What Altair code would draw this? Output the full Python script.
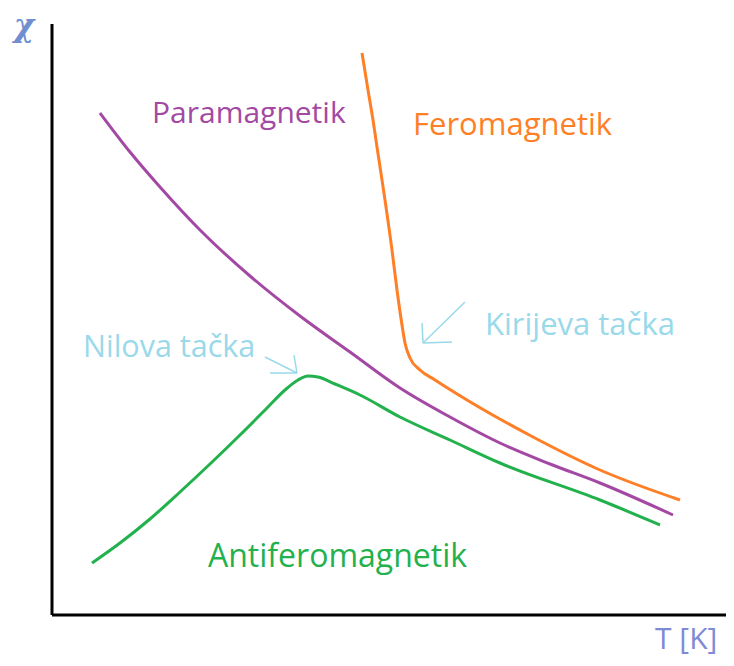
import altair as alt
import pandas as pd

# Curves (T, chi) in arbitrary units
para_T = [48, 78, 108, 148, 198, 248, 298, 348, 398, 448, 498, 548, 621]
para_X = [502, 463, 428, 385, 339, 299, 263, 227, 198, 172, 151, 132, 100]

ferro_T = [310, 316, 321, 325, 333, 340, 345, 350, 353, 358, 368, 383, 415, 481, 548, 628]
ferro_X = [562, 525, 495, 468, 415, 365, 325, 290, 272, 257, 245, 235, 215, 178, 145, 115]

anti_T = [40, 68, 98, 128, 158, 188, 215, 233, 246, 256, 266, 283, 308, 348, 398, 448, 548, 608]
anti_X = [52, 72, 96, 123, 151, 180, 207, 225, 235, 239, 238, 231, 220, 198, 175, 152, 115, 90]

# Labels
lab_text = ["Paramagnetik", "Feromagnetik", "Antiferomagnetik", "Kirijeva tačka", "Nilova tačka", "T [K]"]
lab_T = [100, 361, 156, 433, 31, 603]
lab_X = [492, 480, 48, 280, 258, -34]
lab_size = [30, 31, 32, 31, 30.5, 30]
lab_color = ["#a349a4", "#ff7f27", "#22b14c", "#99d9ea", "#99d9ea", "#7f8ad6"]

# Arrow segments (start -> end)
arr_T = [413, 370, 400, 213, 242, 218]
arr_X = [313, 292, 273, 258, 260, 242]
arr_T2 = [371, 371, 371, 245, 245, 245]
arr_X2 = [272, 272, 272, 242, 242, 242]

# Axis lines
ax_T = [0, 0]
ax_X = [0, 0]
ax_T2 = [0, 674]
ax_X2 = [591, 0]

xs = alt.Scale(domain=[-44, 674], nice=False, zero=False)
ys = alt.Scale(domain=[-43, 607], nice=False, zero=False)

def curve(T, X, color):
    df = pd.DataFrame({"T": T, "chi": X, "i": range(len(T))})
    return alt.Chart(df).mark_line(color=color, strokeWidth=3, interpolate="monotone").encode(
        x=alt.X("T:Q", scale=xs, axis=None),
        y=alt.Y("chi:Q", scale=ys, axis=None),
        order="i:Q",
    )

axes_df = pd.DataFrame({"T": ax_T, "chi": ax_X, "T2": ax_T2, "chi2": ax_X2})
axes = alt.Chart(axes_df).mark_rule(color="black", strokeWidth=3).encode(
    x=alt.X("T:Q", scale=xs, axis=None), y=alt.Y("chi:Q", scale=ys, axis=None),
    x2="T2:Q", y2="chi2:Q")

arr_df = pd.DataFrame({"T": arr_T, "chi": arr_X, "T2": arr_T2, "chi2": arr_X2})
arrows = alt.Chart(arr_df).mark_rule(color="#99d9ea", strokeWidth=1.5).encode(
    x=alt.X("T:Q", scale=xs, axis=None), y=alt.Y("chi:Q", scale=ys, axis=None),
    x2="T2:Q", y2="chi2:Q")

lab_df = pd.DataFrame({"text": lab_text, "T": lab_T, "chi": lab_X, "c": lab_color, "s": lab_size})
labels = alt.Chart(lab_df).mark_text(font="Open Sans", align="left", baseline="alphabetic").encode(
    x=alt.X("T:Q", scale=xs, axis=None), y=alt.Y("chi:Q", scale=ys, axis=None),
    text="text:N", color=alt.Color("c:N", scale=None), size=alt.Size("s:Q", scale=None))

chi_df = pd.DataFrame({"text": ["χ"], "T": [-28], "chi": [588]})
chi = alt.Chart(chi_df).mark_text(font="DejaVu Serif", fontSize=31, fontWeight="bold", fontStyle="italic",
                                  align="center", baseline="middle", color="#6f8fcf").encode(
    x=alt.X("T:Q", scale=xs, axis=None), y=alt.Y("chi:Q", scale=ys, axis=None), text="text:N")

chart = alt.layer(
    axes,
    curve(para_T, para_X, "#a349a4"),
    curve(ferro_T, ferro_X, "#ff7f27"),
    curve(anti_T, anti_X, "#22b14c"),
    arrows, labels, chi,
).properties(width=718, height=650, padding=0, autosize="none", background="white").configure_view(stroke=None)

chart.save("out.html", embed_options={"renderer": "svg", "actions": False})
